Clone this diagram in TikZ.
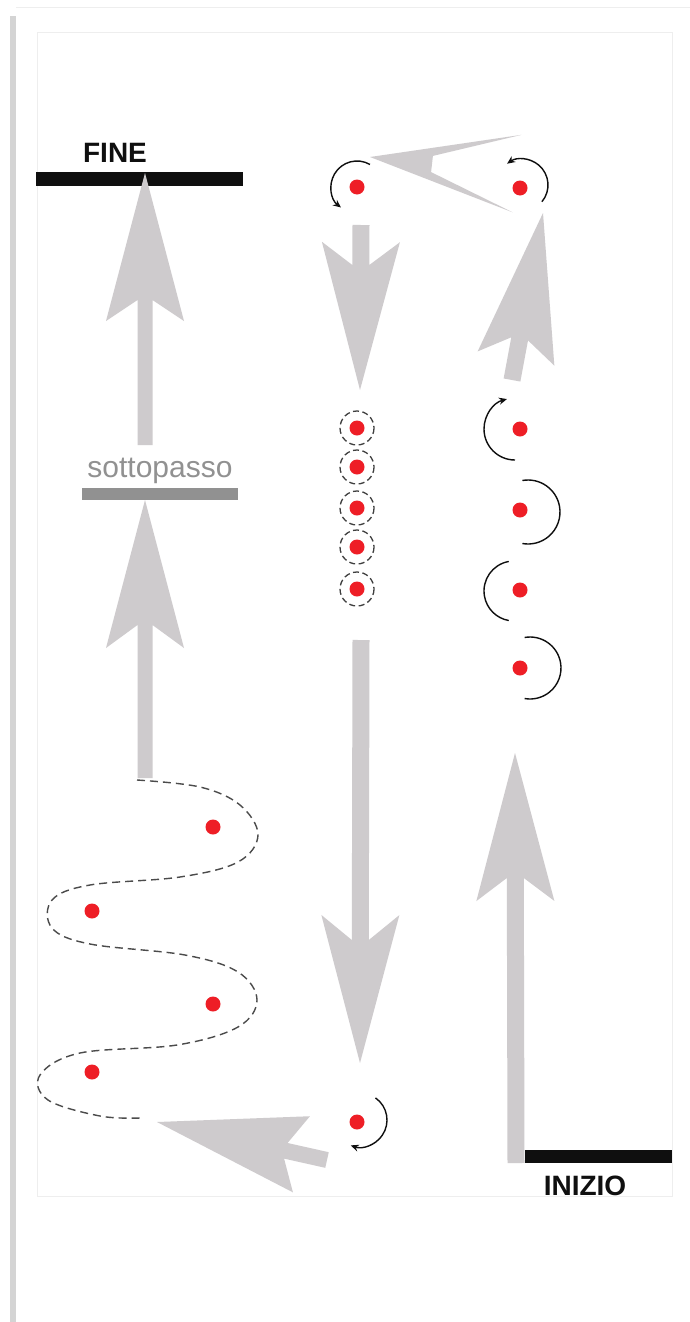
\documentclass[tikz,border=0pt]{standalone}
\usepackage{fontspec}
\setmainfont{Liberation Sans}
\usetikzlibrary{arrows.meta,calc}
\definecolor{arrowGray}{RGB}{206,203,205}
\definecolor{dotRed}{RGB}{238,30,38}
\definecolor{frameGray}{RGB}{212,212,212}
\definecolor{panelRule}{RGB}{238,238,238}
\definecolor{labelGray}{RGB}{145,145,145}
\definecolor{inkBlack}{RGB}{15,15,15}

% big gray arrow: tail, tip, notch distance from tip, shaft half width
\newcommand{\bigarrow}[4]{%
  \coordinate (hb) at ($(#2)!148pt!(#1)$);
  \coordinate (hn) at ($(#2)!#3!(#1)$);
  \fill[arrowGray] (#2) -- ($(hb)!39pt!90:(#2)$) -- ($(hn)!#4!90:(#2)$)
    -- ($(#1)!#4!90:(#2)$) -- ($(#1)!#4!-90:(#2)$)
    -- ($(hn)!#4!-90:(#2)$) -- ($(hb)!39pt!-90:(#2)$) -- cycle;
}

\begin{document}
\begin{tikzpicture}[
    x=1pt, y=-1pt,
    dot/.style={circle, fill=dotRed, inner sep=0pt, minimum size=15pt},
    turn/.style={draw=inkBlack, line width=1.4pt},
    turnarr/.style={turn, -{Stealth[length=8pt,width=7pt]}},
    ring/.style={draw=inkBlack!80, line width=1.3pt, dash pattern=on 6pt off 3.5pt},
    slalom/.style={draw=inkBlack!75, line width=1.4pt, dash pattern=on 8pt off 5pt},
    label/.style={anchor=base, font=\fontsize{28}{30}\selectfont\bfseries, text=inkBlack}
  ]
    \useasboundingbox (0,0) rectangle (690,1322);
    \fill[white] (0,0) rectangle (690,1322);

    % page frame
    \fill[frameGray] (10,16) rectangle (16,1322);
    \draw[panelRule, line width=1pt] (16,8) -- (690,8);
    \draw[panelRule, line width=1pt] (37,33) rectangle (672,1196);

    % finish / underpass / start bars
    \fill[inkBlack] (36,172) rectangle (243,186);
    \node[label] (fineLbl) at (115,162) {FINE};
    \fill[labelGray] (82,488) rectangle (238,500);
    \node[anchor=base, font=\fontsize{30}{32}\selectfont, text=labelGray] (sottoLbl) at (160,477) {sottopasso};
    \fill[inkBlack] (525,1150) rectangle (672,1163);
    \node[label] (inizioLbl) at (585,1195) {INIZIO};

    % arrow ends
    \coordinate (startTail) at (516,1163);
    \coordinate (startTip) at (515,753);
    \coordinate (climbTail) at (512,380);
    \coordinate (climbTip) at (543,213);
    \coordinate (crossTail) at (432,164);
    \coordinate (crossTip) at (370,157);
    \coordinate (dropTail) at (361,225);
    \coordinate (dropTip) at (360,390);
    \coordinate (longTail) at (361,640);
    \coordinate (longTip) at (360,1063);
    \coordinate (backTail) at (327,1160);
    \coordinate (backTip) at (157,1122);
    \coordinate (underTail) at (145,778);
    \coordinate (underTip) at (145,500);
    \coordinate (fineTail) at (145,445);
    \coordinate (fineTip) at (145,173);

    \bigarrow{startTail}{startTip}{125pt}{8.5pt}
    \bigarrow{climbTail}{climbTip}{128pt}{8.5pt}
    \bigarrow{crossTail}{crossTip}{62pt}{8pt}
    \bigarrow{dropTail}{dropTip}{125pt}{8.5pt}
    \bigarrow{longTail}{longTip}{123pt}{8.5pt}
    \bigarrow{backTail}{backTip}{132pt}{8pt}
    \bigarrow{underTail}{underTip}{125pt}{7.5pt}
    \bigarrow{fineTail}{fineTip}{127pt}{7.5pt}

    % turns at the top
    \node[dot] (topL) at (357,187) {};
    \node[dot] (topR) at (520,188) {};
    \draw[turnarr] ([shift={(300:26)}]topL.center) arc[start angle=300, end angle=128, radius=26];
    \draw[turnarr] ([shift={(40:26)}]522,185) arc[start angle=40, end angle=-125, radius=26];

    % pirouettes on the spot
    \foreach \i/\y in {1/428, 2/467, 3/508, 4/547, 5/589} {
      \node[dot] (spin\i) at (357,\y) {};
      \draw[ring] (spin\i.center) circle (17);
    }

    % half turns
    \node[dot] (half1) at (520,429) {};
    \node[dot] (half2) at (520,510) {};
    \node[dot] (half3) at (520,590) {};
    \node[dot] (half4) at (520,668) {};
    \draw[turnarr] ([shift={(90:31)}]515,429) arc[start angle=90, end angle=255, radius=31];
    \draw[turn] ([shift={(-100:32)}]528,512) arc[start angle=-100, end angle=100, radius=32];
    \draw[turn] ([shift={(260:30)}]514,591) arc[start angle=260, end angle=100, radius=30];
    \draw[turn] ([shift={(-100:31)}]530,668) arc[start angle=-100, end angle=100, radius=31];

    % bottom turn
    \node[dot] (botTurn) at (357,1122) {};
    \draw[turnarr] ([shift={(-55:27)}]360,1120) arc[start angle=-55, end angle=110, radius=27];

    % slalom
    \node[dot] (sla1) at (213,827) {};
    \node[dot] (sla2) at (92,911) {};
    \node[dot] (sla3) at (213,1004) {};
    \node[dot] (sla4) at (92,1072) {};
    \draw[slalom] plot[smooth, tension=0.6] coordinates {
      (137,780) (200,787) (240,805) (258,835) (238,862) (180,877) (90,885)
      (52,900) (52,928) (90,944) (185,955) (238,972) (257,1000) (238,1027)
      (177,1045) (80,1053) (40,1075) (48,1100) (100,1116) (140,1118)};
\end{tikzpicture}
\end{document}
